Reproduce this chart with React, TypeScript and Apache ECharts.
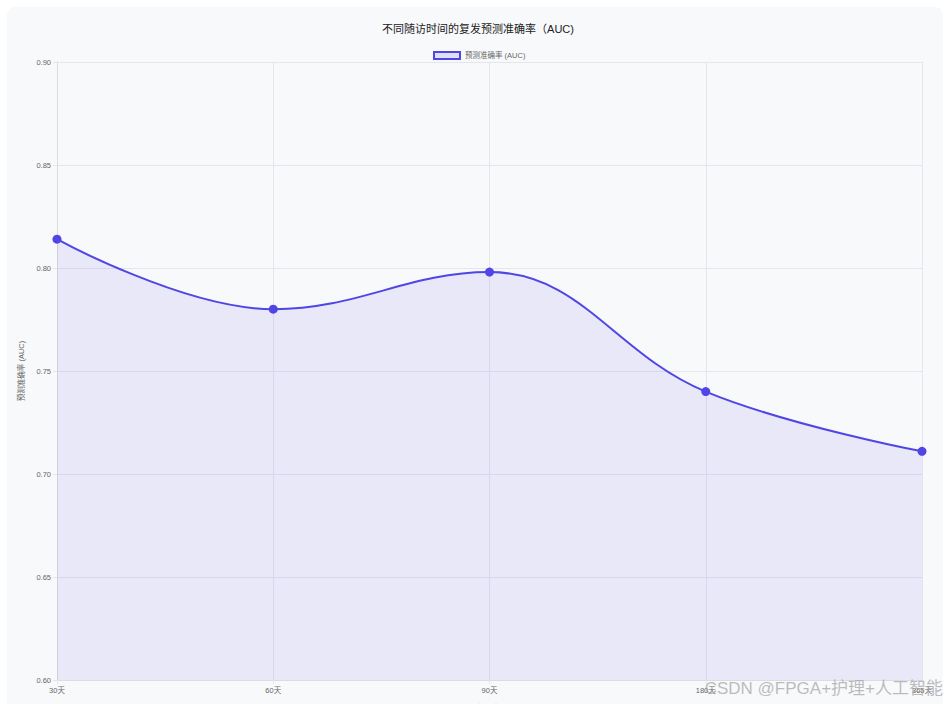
import React, { useEffect, useRef } from "react";
import * as echarts from "echarts";

const categories = ["30天", "60天", "90天", "180天", "365天"];
const aucValues = [0.814, 0.78, 0.798, 0.74, 0.711];
const seriesName = "预测准确率 (AUC)";
const titleText = "不同随访时间的复发预测准确率（AUC)";
const yAxisName = "预测准确率 (AUC)";
const xAxisName = "随访时间";
const watermark = "CSDN @FPGA+护理+人工智能";

const FONT = "'Liberation Sans', 'Noto Sans CJK SC', sans-serif";

export default function App() {
  const ref = useRef<HTMLDivElement>(null);
  useEffect(() => {
    if (!ref.current) return;
    const chart = echarts.init(ref.current, undefined, { renderer: "svg" });
    chart.setOption({
      animation: false,
      textStyle: { fontFamily: FONT },
      title: {
        text: titleText,
        left: 473,
        textAlign: "center",
        top: 18,
        textStyle: { fontSize: 11, fontWeight: "normal", color: "#222", fontFamily: FONT },
      },
      legend: {
        data: [seriesName],
        top: 46,
        left: 428,
        icon: "rect",
        itemWidth: 26,
        itemHeight: 7,
        itemGap: 5,
        textStyle: { fontSize: 7.5, color: "#666", fontFamily: FONT },
        itemStyle: { color: "rgba(79,70,229,0.15)", borderColor: "#4f46e5", borderWidth: 2 },
      },
      grid: { left: 57, right: 23, top: 62, bottom: 24, containLabel: false, outerBoundsMode: "none" },
      xAxis: {
        type: "category",
        data: categories,
        boundaryGap: false,
        name: xAxisName,
        nameLocation: "middle",
        nameGap: 24,
        nameTextStyle: { fontSize: 8, color: "#666" },
        axisLine: { show: true, lineStyle: { color: "#ddd" } },
        axisTick: { show: true, length: 4, lineStyle: { color: "#e5e5ea" } },
        axisLabel: { fontSize: 7.5, color: "#666", margin: 7 },
        splitLine: { show: true, lineStyle: { color: "#e5e5ee" } },
      },
      yAxis: {
        type: "value",
        min: 0.6,
        max: 0.9,
        interval: 0.05,
        name: yAxisName,
        nameLocation: "middle",
        nameGap: 28,
        nameRotate: 90,
        nameTextStyle: { fontSize: 7.5, color: "#666" },
        axisLine: { show: true, lineStyle: { color: "#ddd" } },
        axisTick: { show: true, length: 4, lineStyle: { color: "#e5e5ea" } },
        axisLabel: { fontSize: 7.5, color: "#666", margin: 6, formatter: (v: number) => v.toFixed(2) },
        splitLine: { show: true, lineStyle: { color: "#e5e5ee" } },
      },
      series: [
        {
          name: seriesName,
          type: "line",
          data: aucValues,
          smooth: 0.4,
          symbol: "circle",
          symbolSize: 9,
          lineStyle: { color: "#4f46e5", width: 2 },
          itemStyle: { color: "#4f46e5" },
          areaStyle: { color: "rgba(79,70,229,0.13)" },
        },
      ],
      graphic: [
        {
          type: "text",
          right: 2,
          top: 680,
          z: 100,
          style: {
            text: watermark,
            fontSize: 17,
            fill: "rgba(160,160,160,0.7)",
            fontFamily: "'Liberation Sans', 'Noto Sans CJK SC', sans-serif",
          },
        },
      ],
    });
    return () => chart.dispose();
  }, []);
  return (
    <div style={{ position: "fixed", left: 0, top: 0, width: 945, height: 704, background: "#fff", overflow: "hidden" }}>
      <div
        style={{
          position: "absolute",
          left: 7,
          top: 7,
          width: 936,
          height: 720,
          background: "#f8f9fb",
          borderRadius: 8,
        }}
      />
      <div ref={ref} style={{ position: "absolute", left: 0, top: 0, width: 945, height: 704 }} />
    </div>
  );
}
